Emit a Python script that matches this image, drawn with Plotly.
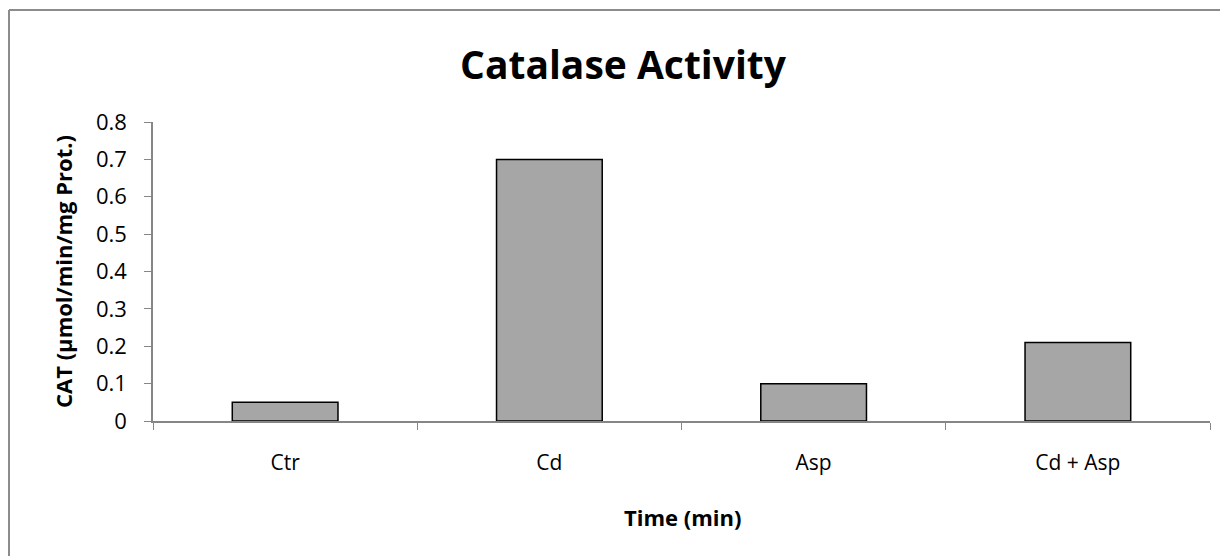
"""Catalase activity bar chart."""

import plotly.graph_objects as go

CATEGORIES = ["Ctr", "Cd", "Asp", "Cd + Asp"]
CAT_VALUES = [0.05, 0.70, 0.10, 0.21]
Y_TICKS = [0, 0.1, 0.2, 0.3, 0.4, 0.5, 0.6, 0.7, 0.8]
Y_TICK_LABELS = ["0", "0.1", "0.2", "0.3", "0.4", "0.5", "0.6", "0.7", "0.8"]

# the page body adds an 8px margin, so the figure is a bit smaller than the window
OFF = 8
W, H = 1228 - OFF, 556 - OFF
# plot area in window pixels: x 153..1210, y 122..421
ML, MR, MT, MB = 153 - OFF, 18, 122 - OFF, 556 - 421
FONT = "'Open Sans', Lato, sans-serif"
AXIS_GRAY = "#868686"

plot_w = W - ML - MR
plot_h = H - MT - MB


def px_to_paper_x(px):
    return (px - OFF - ML) / plot_w


def px_to_paper_y(py):
    return (H - MB - (py - OFF)) / plot_h


figure = go.Figure()
figure.add_trace(
    go.Bar(
        x=CATEGORIES,
        y=CAT_VALUES,
        width=0.4,
        marker={"color": "#a6a6a6", "line": {"color": "#000000", "width": 1.5}},
        hoverinfo="x+y",
    )
)

# chart-area border (only top and left edges are visible in the frame)
border = {"color": "#8c8c8c", "width": 2}
figure.add_shape(type="line", xref="paper", yref="paper",
                 x0=px_to_paper_x(9), x1=px_to_paper_x(1260),
                 y0=px_to_paper_y(10), y1=px_to_paper_y(10), line=border)
figure.add_shape(type="line", xref="paper", yref="paper",
                 x0=px_to_paper_x(9), x1=px_to_paper_x(9),
                 y0=px_to_paper_y(10), y1=px_to_paper_y(600), line=border)

figure.update_layout(
    width=W,
    height=H,
    margin={"l": ML, "r": MR, "t": MT, "b": MB, "pad": 0},
    paper_bgcolor="#ffffff",
    plot_bgcolor="#ffffff",
    showlegend=False,
    font={"family": FONT, "color": "#000000", "size": 21},
    title={
        "text": "<b>Catalase Activity</b>",
        "font": {"family": FONT, "size": 39, "color": "#000000"},
        "x": (623 - OFF) / W,
        "xanchor": "center",
        "xref": "container",
        "y": 1 - (65 - OFF) / H,
        "yanchor": "middle",
        "yref": "container",
    },
    xaxis={
        "type": "category",
        "tickson": "boundaries",
        "ticks": "outside",
        "ticklen": 7,
        "tickcolor": AXIS_GRAY,
        "showline": True,
        "linecolor": AXIS_GRAY,
        "linewidth": 1.5,
        "showgrid": False,
        "tickfont": {"size": 21},
        "ticklabelstandoff": 22,
    },
    yaxis={
        "range": [0, 0.8],
        "tickvals": Y_TICKS,
        "ticktext": Y_TICK_LABELS,
        "ticks": "outside",
        "ticklen": 7,
        "tickcolor": AXIS_GRAY,
        "showline": True,
        "linecolor": AXIS_GRAY,
        "linewidth": 1.5,
        "showgrid": False,
        "zeroline": False,
        "tickfont": {"size": 22},
        "ticklabelstandoff": 13,
    },
    annotations=[
        {
            "text": "<b>CAT (µmol/min/mg Prot.)</b>",
            "xref": "paper", "yref": "paper",
            "x": px_to_paper_x(63), "y": px_to_paper_y(272),
            "xanchor": "center", "yanchor": "middle",
            "textangle": -90, "showarrow": False,
            "font": {"size": 22},
        },
        {
            "text": "<b>Time (min)</b>",
            "xref": "paper", "yref": "paper",
            "x": px_to_paper_x(682), "y": px_to_paper_y(517),
            "xanchor": "center", "yanchor": "middle",
            "showarrow": False,
            "font": {"size": 22},
        },
    ],
)

figure.write_html("out.html")
